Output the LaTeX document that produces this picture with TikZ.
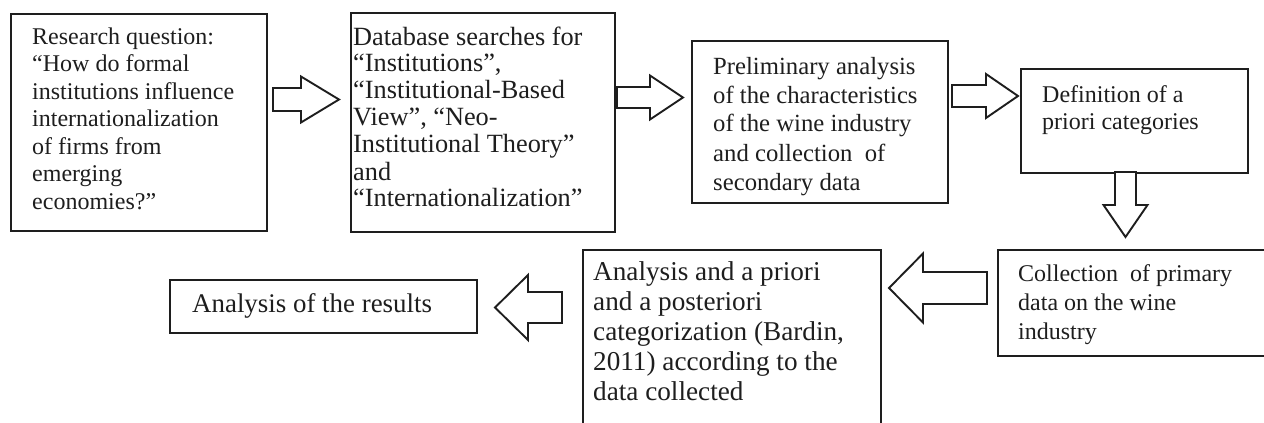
\documentclass[tikz,border=0pt]{standalone}
\usepackage{fontspec}
\setmainfont{Liberation Serif}
\usetikzlibrary{calc}
\definecolor{ink}{HTML}{1E1E1E}
\newcommand\textlines[1]{\begin{tabular}[t]{@{}l@{}}#1\end{tabular}}
% tail, tip, shaft half width, head half width, head length
\newcommand\blockarrow[5]{%
  \coordinate (hb) at ($(#2)!#5!(#1)$);
  \draw[barrow] ($(#1)!#3!90:(#2)$) -- ($(hb)!#3!90:(#2)$) -- ($(hb)!#4!90:(#2)$) -- (#2)
    -- ($(hb)!#4!-90:(#2)$) -- ($(hb)!#3!-90:(#2)$) -- ($(#1)!#3!-90:(#2)$) -- cycle;}
\begin{document}
\begin{tikzpicture}[x=1pt,y=-1pt,
  box/.style={draw=ink, line width=1.9pt, rectangle, inner sep=0pt, anchor=north west},
  txt/.style={anchor=base west, inner sep=0pt, text=ink},
  barrow/.style={draw=ink, line width=1.9pt, line join=miter, fill=white}]
\useasboundingbox[fill=white] (0,0) rectangle (1264,423);

% boxes
\node[box, minimum width=256pt, minimum height=217pt] (b1) at (10,13) {};
\node[box, minimum width=264pt, minimum height=219pt] (b2) at (350,12) {};
\node[box, minimum width=256pt, minimum height=162pt] (b3) at (691,40) {};
\node[box, minimum width=227pt, minimum height=104pt] (b4) at (1020,68) {};
\node[box, minimum width=269pt, minimum height=106pt] (b5) at (997,249) {};
\node[box, minimum width=298pt, minimum height=177pt] (b6) at (582,249) {};
\node[box, minimum width=307pt, minimum height=53pt] (b7) at (169,279) {};

% texts
\node[txt, font=\fontsize{24}{27.6}\selectfont] (t1) at (32,44) {\textlines{Research question:\\
  “How do formal\\ institutions influence\\ internationalization\\ of firms from\\ emerging\\ economies?”}};
\node[txt, font=\fontsize{26.3}{27}\selectfont] (t2) at (353,45) {\textlines{Database searches for\\
  “Institutions”,\\ “Institutional-Based\\ View”, “Neo-\\ Institutional Theory”\\ and\\ “Internationalization”}};
\node[txt, font=\fontsize{24.7}{29}\selectfont] (t3) at (713,74) {\textlines{Preliminary analysis\\
  of the characteristics\\ of the wine industry\\ and collection~ of\\ secondary data}};
\node[txt, font=\fontsize{24}{27}\selectfont] (t4) at (1042,102) {\textlines{Definition of a\\ priori categories}};
\node[txt, font=\fontsize{24}{29}\selectfont] (t5) at (1018,281) {\textlines{Collection~ of primary\\
  data on the wine\\ industry}};
\node[txt, font=\fontsize{27.2}{30}\selectfont] (t6) at (593,280) {\textlines{Analysis and a priori\\
  and a posteriori\\ categorization (Bardin,\\ 2011) according to the\\ data collected}};
\node[txt, font=\fontsize{26.9}{27}\selectfont] (t7) at (192,312) {Analysis of the results};

% arrow end points
\coordinate (a1s) at (273,99.5);  \coordinate (a1e) at (339,99.5);
\coordinate (a2s) at (617,97.5);  \coordinate (a2e) at (683,97.5);
\coordinate (a3s) at (952,96);    \coordinate (a3e) at (1018,96);
\coordinate (a4s) at (1125.5,172);\coordinate (a4e) at (1125.5,237);
\coordinate (a5s) at (987,288);   \coordinate (a5e) at (889,288);
\coordinate (a6s) at (562,307.5); \coordinate (a6e) at (495,307.5);

\blockarrow{a1s}{a1e}{11.5pt}{23pt}{38pt}
\blockarrow{a2s}{a2e}{10.5pt}{22pt}{33pt}
\blockarrow{a3s}{a3e}{11pt}{22pt}{32pt}
\blockarrow{a4s}{a4e}{10.5pt}{22pt}{32pt}
\blockarrow{a5s}{a5e}{16pt}{34.5pt}{34pt}
\blockarrow{a6s}{a6e}{15.5pt}{32.5pt}{33pt}
\end{tikzpicture}
\end{document}
